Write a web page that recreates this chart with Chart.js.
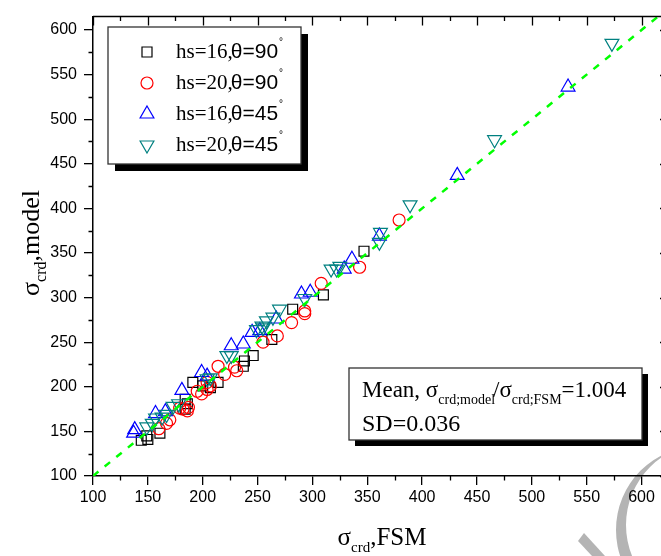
<!DOCTYPE html>
<html>
<head>
<meta charset="utf-8">
<script src="https://cdn.jsdelivr.net/npm/chart.js@4.4.0/dist/chart.umd.min.js"></script>
<style>
html,body{margin:0;padding:0;background:#fff;overflow:hidden;}
#wrap{width:661px;height:556px;overflow:hidden;}
</style>
</head>
<body>
<div id="wrap"><canvas id="myChart" width="680" height="556"></canvas></div>
<script>
// hs=16, theta=90 (squares)
const sq16x = [144,150,149,161,184,186,184,191,200,207,214,237,238,246,263,282,310,347]
const sq16y = [140,141,145,148,175,181,186,205,201,199,205,223,229,235,253,287,303,352]
// hs=20, theta=90 (circles)
const ci20x = [160,167,170,179,182,186,187,195,199,204,204,207,214,220,229,231,255,268,281,293,293,308,343,379]
const ci20y = [153,159,163,176,175,173,177,195,192,197,205,201,223,214,222,218,250,257,272,282,285,316,334,387]
// hs=16, theta=45 (up triangles)
const up16x = [137,138,157,166,181,199,204,226,237,245,252,267,290,298,329,336,361,432,533]
const up16y = [148,152,170,172,196,216,212,246,248,261,263,276,304,306,332,343,369,437,536]
// hs=20, theta=45 (down triangles)
const dn20x = [149,154,157,163,167,173,178,204,207,222,226,249,255,254,258,264,270,293,317,322,325,361,362,389,466,573]
const dn20y = [155,159,165,166,169,178,181,209,210,235,235,264,266,268,274,278,287,299,332,332,335,362,373,404,477,585]
// y = x reference line
const lineX = [100,625]
const lineY = [100,625]

const labels = ["hs=16,", "hs=20,", "hs=16,", "hs=20,"]
const angles = ["θ=90", "θ=90", "θ=45", "θ=45"]
const colors = ["#000000", "#ff0000", "#0000ff", "#008080"]
const styles = ["rect", "circle", "up", "down"]

const serif = '"Liberation Serif", "Times New Roman", serif'
const sans = '"Liberation Sans", Arial, sans-serif'

function pts(xs, ys) {
    return xs.map((x, i) => ({x: x, y: ys[i]}))
}

function marker(ctx, style, x, y, color) {
    ctx.save()
    ctx.strokeStyle = color
    ctx.lineWidth = 1.2
    ctx.beginPath()
    if (style == "rect") {
        ctx.rect(x - 5, y - 5, 10, 10)
    } else if (style == "circle") {
        ctx.arc(x, y, 6, 0, Math.PI * 2)
    } else if (style == "up") {
        ctx.moveTo(x, y - 8); ctx.lineTo(x + 6.9, y + 4); ctx.lineTo(x - 6.9, y + 4); ctx.closePath()
    } else {
        ctx.moveTo(x, y + 8); ctx.lineTo(x + 6.9, y - 4); ctx.lineTo(x - 6.9, y - 4); ctx.closePath()
    }
    ctx.stroke()
    ctx.restore()
}

// draws pieces of text one after another, returns end x
function runs(ctx, x, y, parts, measureOnly) {
    let cx = x
    parts.forEach(p => {
        ctx.font = p.f
        cx += p.dx || 0
        if (!measureOnly) ctx.fillText(p.t, cx, y + (p.dy || 0))
        cx += ctx.measureText(p.t).width
    })
    return cx
}

function shadowBox(ctx, x, y, w, h, off) {
    ctx.fillStyle = "#000"
    ctx.fillRect(x + off, y + off, w, h)
    ctx.fillStyle = "#fff"
    ctx.fillRect(x, y, w, h)
    ctx.strokeStyle = "#333"
    ctx.lineWidth = 1.3
    ctx.strokeRect(x, y, w, h)
}

const extras = {
    id: "extras",
    beforeDraw(chart) {
        const ctx = chart.ctx
        ctx.save()
        ctx.fillStyle = "#fff"
        ctx.fillRect(0, 0, chart.width, chart.height)
        // faint watermark in the corner
        ctx.fillStyle = "#b4b4b4"
        ctx.beginPath()
        ctx.arc(700, 530, 84, 0, Math.PI * 2)
        ctx.arc(708, 525, 82, 0, Math.PI * 2)
        ctx.fill("evenodd")
        ctx.beginPath()
        ctx.moveTo(578, 541); ctx.lineTo(584, 533); ctx.lineTo(605, 556); ctx.lineTo(592, 556)
        ctx.closePath()
        ctx.fill()
        ctx.restore()
    },
    afterDraw(chart) {
        const ctx = chart.ctx
        const a = chart.chartArea
        const xs = chart.scales.x, ys = chart.scales.y
        ctx.save()
        ctx.strokeStyle = "#000"
        ctx.lineWidth = 1.5
        ctx.beginPath()
        ctx.moveTo(a.left, a.top); ctx.lineTo(a.right, a.top); ctx.lineTo(a.right, a.bottom)
        ctx.stroke()
        ctx.lineWidth = 1.3
        ctx.beginPath()
        for (let v = 100; v <= 625; v += 25) {
            const major = v % 50 == 0
            const len = major ? 9 : 4.5
            const px = Math.round(xs.getPixelForValue(v)) + 0.5
            const py = Math.round(ys.getPixelForValue(v)) + 0.5
            if (v <= xs.max) {
                if (!major) { ctx.moveTo(px, a.bottom); ctx.lineTo(px, a.bottom + len) }
                ctx.moveTo(px, a.top); ctx.lineTo(px, a.top + len)
            }
            if (v <= ys.max) {
                if (!major) { ctx.moveTo(a.left, py); ctx.lineTo(a.left - len, py) }
                ctx.moveTo(a.right, py); ctx.lineTo(a.right - len, py)
            }
        }
        ctx.stroke()

        // legend
        shadowBox(ctx, 108, 27, 193, 137, 7)
        ctx.fillStyle = "#000"
        ctx.textBaseline = "alphabetic"
        labels.forEach((lab, i) => {
            const cy = 52 + i * 31
            marker(ctx, styles[i], 147, cy, colors[i])
            ctx.fillStyle = "#000"
            runs(ctx, 176, cy + 6, [
                {t: lab, f: "21px " + serif},
                {t: angles[i], f: "21px " + sans, dx: -2},
                {t: "°", f: "10px " + sans, dx: 1, dy: -13}
            ])
        })

        // stats box
        shadowBox(ctx, 349, 368, 293, 72, 6)
        ctx.fillStyle = "#000"
        runs(ctx, 362, 397, [
            {t: "Mean, σ", f: "23px " + serif},
            {t: "crd;model", f: "14px " + serif, dy: 7},
            {t: "/σ", f: "23px " + serif, dx: -2},
            {t: "crd;FSM", f: "14px " + serif, dy: 7},
            {t: "=1.004", f: "23px " + serif}
        ])
        runs(ctx, 362, 431, [{t: "SD=0.036", f: "24px " + serif}])

        // axis titles
        const xt = [
            {t: "σ", f: "25px " + serif},
            {t: "crd", f: "15px " + serif, dy: 7},
            {t: ",FSM", f: "25px " + serif}
        ]
        const xw = runs(ctx, 0, 0, xt, true)
        runs(ctx, 382 - xw / 2, 545, xt)

        const yt = [
            {t: "σ", f: "26px " + serif},
            {t: "crd", f: "16px " + serif, dy: 7},
            {t: ",model", f: "26px " + serif}
        ]
        const yw = runs(ctx, 0, 0, yt, true)
        ctx.translate(39, 243)
        ctx.rotate(-Math.PI / 2)
        runs(ctx, -yw / 2, 0, yt)
        ctx.restore()
    }
}

const tickFont = {family: "Liberation Sans", size: 16}

new Chart("myChart", {
    type: "scatter",
    data: {
        datasets: [
            {
                data: pts(lineX, lineY),
                showLine: true,
                pointRadius: 0,
                borderColor: "#00ff00",
                borderWidth: 2.5,
                borderDash: [7, 8],
                order: 0
            },
            {
                data: pts(sq16x, sq16y),
                pointStyle: "rect",
                pointRadius: 7,
                borderColor: "#000000",
                backgroundColor: "rgba(0,0,0,0)",
                pointBorderWidth: 1.2,
                order: 4
            },
            {
                data: pts(ci20x, ci20y),
                pointStyle: "circle",
                pointRadius: 6,
                borderColor: "#ff0000",
                backgroundColor: "rgba(0,0,0,0)",
                pointBorderWidth: 1.2,
                order: 3
            },
            {
                data: pts(up16x, up16y),
                pointStyle: "triangle",
                pointRadius: 8,
                borderColor: "#0000ff",
                backgroundColor: "rgba(0,0,0,0)",
                pointBorderWidth: 1.2,
                order: 2
            },
            {
                data: pts(dn20x, dn20y),
                pointStyle: "triangle",
                rotation: 180,
                pointRotation: 180,
                pointRadius: 8,
                borderColor: "#008080",
                backgroundColor: "rgba(0,0,0,0)",
                pointBorderWidth: 1.2,
                order: 1
            }
        ]
    },
    options: {
        responsive: false,
        animation: false,
        events: [],
        layout: {padding: {top: 7, right: 11, left: 0, bottom: 0}},
        plugins: {legend: {display: false}, tooltip: {enabled: false}},
        scales: {
            x: {
                min: 100, max: 625,
                ticks: {stepSize: 50, includeBounds: false, color: "#000", font: tickFont, padding: 3, maxRotation: 0},
                grid: {drawOnChartArea: false, tickLength: 9, color: "#000", lineWidth: 1.3},
                border: {color: "#000", width: 1.5},
                afterFit: s => { s.height = 80 }
            },
            y: {
                min: 100, max: 615,
                ticks: {stepSize: 50, includeBounds: false, color: "#000", font: tickFont, padding: 7},
                grid: {drawOnChartArea: false, tickLength: 9, color: "#000", lineWidth: 1.3},
                border: {color: "#000", width: 1.5},
                afterFit: s => { s.width = 93 }
            }
        }
    },
    plugins: [extras]
})
</script>
</body>
</html>
